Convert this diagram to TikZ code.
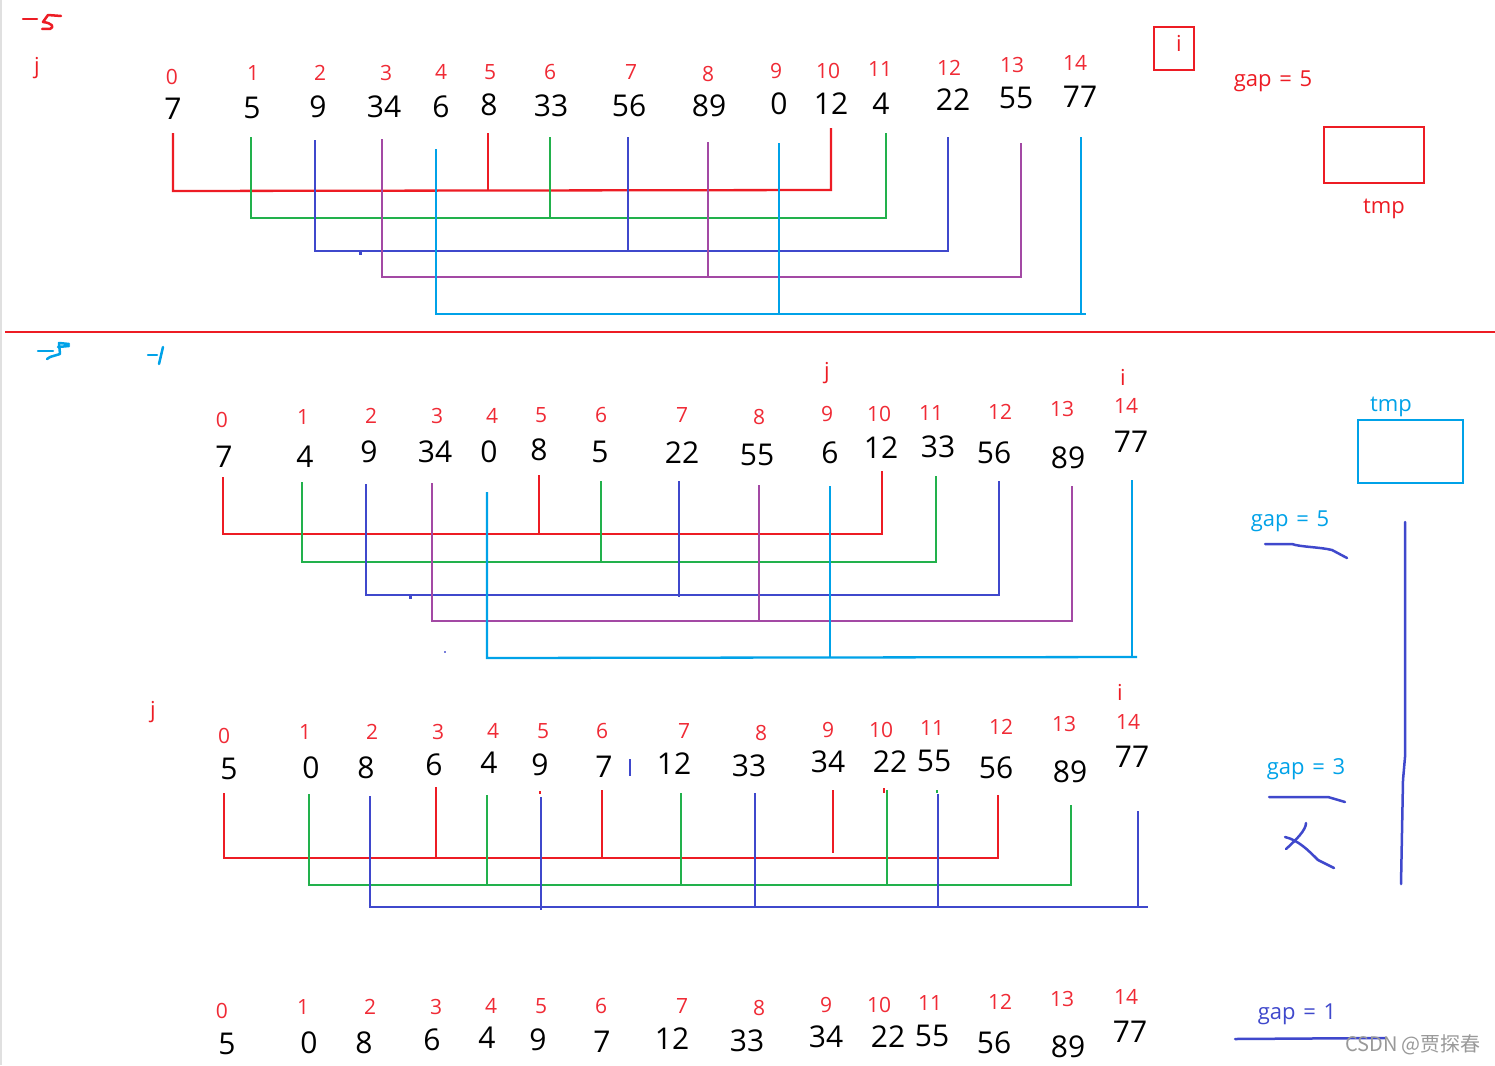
\documentclass[tikz,border=0pt]{standalone}
\usepackage{fontspec}
\setmainfont{Open Sans}
\newfontfamily\cjkfont{Noto Sans CJK SC}
\definecolor{cR}{HTML}{ED1C24}
\definecolor{cG}{HTML}{22B14C}
\definecolor{cB}{HTML}{3F48CC}
\definecolor{cP}{HTML}{A349A4}
\definecolor{cC}{HTML}{00A2E8}
\definecolor{cI}{HTML}{F02A35}
\tikzset{
  num/.style={font=\fontsize{30}{31}\selectfont, text=black, inner sep=0pt},
  idx/.style={font=\fontsize{21}{22}\selectfont, text=cI, inner sep=0pt},
  lbl/.style={font=\fontsize{22}{24}\selectfont, inner sep=0pt},
  ln/.style={line width=2.3pt},
  hand/.style={line width=2.5pt, line cap=round, line join=round},
}
\newcommand\gaptext[1]{gap\hspace{0.35em}=\hspace{0.35em}#1}
\begin{document}
\begin{tikzpicture}[x=1pt,y=-1pt]
\useasboundingbox (0,0) rectangle (1495,1065);
\fill[white] (0,0) rectangle (1495,1065);
\draw[black!12, line width=1.5pt] (1,0) -- (1,1065);

% ---------------- Section 1 ----------------
\draw[hand, cR] (23,19) -- (37,19);
\draw[hand, cR] (61,16) -- (48,15) -- (43,22) .. controls (52,23) and (55,27) .. (50,29) -- (42,29);
\node[lbl, text=cR] (j1) at (37,68) {j};
\foreach \x/\y/\t [count=\k from 0] in {172/77/0,253/73/1,320/73/2,386/73/3,441/72/4,490/72/5,550/72/6,631/72/7,708/74/8,776/71/9,828/71/10,880/69/11,949/68/12,1012/65/13,1075/63/14}
  {\node[idx] (s1i\k) at (\x,\y) {\t};}
\foreach \x/\y/\t [count=\k from 0] in {173/109/7,252/108/5,318/107/9,384/107/34,441/107/6,489/105/8,551/106/33,629/106/56,709/106/89,779/104/0,831/104/12,881/104/4,953/100/22,1016/98/55,1080/97/77}
  {\node[num] (s1n\k) at (\x,\y) {\t};}

\draw[ln, cR] (173,133) -- (173,191) -- (831,190) -- (831,128);
\draw[ln, cR] (488,133) -- (488,190);
\draw[ln, cG] (251,137) -- (251,218) -- (886,218) -- (886,133);
\draw[ln, cG] (550,137) -- (550,218);
\draw[ln, cB] (315,140) -- (315,251) -- (948,251) -- (948,137);
\draw[ln, cB] (628,137) -- (628,252);
\fill[cB] (359,251) rectangle (362,255);
\draw[ln, cP] (382,139) -- (382,277) -- (1021,277) -- (1021,143);
\draw[ln, cP] (708,142) -- (708,278);
\draw[ln, cC] (436,149) -- (436,314) -- (1086,314);
\draw[ln, cC] (1081,137) -- (1081,314);
\draw[ln, cC] (779,143) -- (779,314);

\draw[ln, cR] (1154,27) rectangle (1194,70);
\node[lbl, text=cR] (iA) at (1179,43) {i};
\node[lbl, text=cR] (gap1) at (1273,81) {\gaptext{5}};
\draw[ln, cR] (1324,127) rectangle (1424,183);
\node[lbl, text=cR] (tmp1) at (1384,209) {tmp};

\draw[ln, cR] (5,332) -- (1495,332);

% ---------------- Section 2 ----------------
\draw[hand, cC] (38,351) -- (53,351);
\draw[hand, cC] (69,344) -- (59,343) -- (60,354) -- (50,357) -- (47,359);
\draw[hand, cC] (58,347) -- (69,346);
\draw[hand, cC] (148,355) -- (157,355);
\draw[hand, cC] (163,347) -- (159,364);
\node[lbl, text=cR] (j2) at (827,373) {j};
\node[lbl, text=cR] (i2) at (1123,377) {i};
\foreach \x/\y/\t [count=\k from 0] in {222/420/0,303/417/1,371/416/2,437/416/3,492/416/4,541/415/5,601/415/6,682/415/7,759/417/8,827/414/9,879/414/10,931/413/11,1000/412/12,1062/409/13,1126/406/14}
  {\node[idx] (s2i\k) at (\x,\y) {\t};}
\foreach \x/\y/\t [count=\k from 0] in {224/457/7,305/457/4,369/452/9,435/452/34,489/452/0,539/450/8,600/452/5,682/453/22,757/455/55,830/453/6,881/448/12,938/447/33,994/453/56,1068/458/89,1131/442/77}
  {\node[num] (s2n\k) at (\x,\y) {\t};}

\draw[ln, cR] (223,477) -- (223,534) -- (882,534) -- (882,471);
\draw[ln, cR] (539,475) -- (539,534);
\draw[ln, cG] (302,482) -- (302,562) -- (936,562) -- (936,476);
\draw[ln, cG] (601,481) -- (601,562);
\draw[ln, cB] (366,484) -- (366,595) -- (999,595) -- (999,481);
\draw[ln, cB] (679,481) -- (679,597);
\fill[cB] (409,595) rectangle (412,599);
\draw[ln, cP] (432,483) -- (432,621) -- (1072,621) -- (1072,486);
\draw[ln, cP] (759,485) -- (759,622);
\draw[ln, cC] (487,492) -- (487,658) -- (1137,657);
\draw[ln, cC] (830,486) -- (830,657);
\draw[ln, cC] (1132,480) -- (1132,657);
\fill[cB!70] (444,651) rectangle (446,653);

\draw[ln, cC] (1358,420) rectangle (1463,483);
\node[lbl, text=cC] (tmp2) at (1391,407) {tmp};
\node[lbl, text=cC] (gap2) at (1290,521) {\gaptext{5}};
\draw[hand, cB] (1265,544) -- (1292,544) .. controls (1300,547) and (1320,547) .. (1332,550) -- (1347,558);
\draw[hand, cB] (1405,522) -- (1405,757) -- (1403,780) -- (1401,884);

% ---------------- Section 3 ----------------
\node[lbl, text=cR] (j3) at (153,712) {j};
\node[lbl, text=cR] (i3) at (1120,692) {i};
\foreach \x/\y/\t [count=\k from 0] in {224/736/0,305/732/1,372/732/2,438/732/3,493/731/4,543/731/5,602/731/6,684/731/7,761/733/8,828/730/9,881/730/10,932/728/11,1001/727/12,1064/724/13,1128/722/14}
  {\node[idx] (s3i\k) at (\x,\y) {\t};}
\foreach \x/\y/\t [count=\k from 0] in {229/769/5,311/768/0,366/768/8,434/765/6,489/763/4,540/765/9,604/767/7,674/764/12,749/766/33,828/762/34,890/762/22,934/761/55,996/768/56,1070/772/89,1132/757/77}
  {\node[num] (s3n\k) at (\x,\y) {\t};}
\draw[ln, cB] (630,759) -- (630,776);

\draw[ln, cR] (224,793) -- (224,858) -- (998,858) -- (998,795);
\draw[ln, cR] (436,787) -- (436,858);
\draw[ln, cR] (602,790) -- (602,858);
\draw[ln, cR] (833,790) -- (833,853);
\draw[ln, cR] (540,791) -- (540,794);
\draw[ln, cR] (884,788) -- (884,793);
\draw[ln, cG] (309,794) -- (309,885) -- (1071,885) -- (1071,805);
\draw[ln, cG] (487,795) -- (487,886);
\draw[ln, cG] (681,793) -- (681,886);
\draw[ln, cG] (887,790) -- (887,885);
\draw[ln, cG] (937,790) -- (937,793);
\draw[ln, cB] (370,796) -- (370,907) -- (1148,907);
\draw[ln, cB] (541,797) -- (541,910);
\draw[ln, cB] (755,793) -- (755,907);
\draw[ln, cB] (938,794) -- (938,907);
\draw[ln, cB] (1138,811) -- (1138,907);

\node[lbl, text=cC] (gap3) at (1306,769) {\gaptext{3}};
\draw[hand, cB] (1269,797) -- (1328,797) -- (1345,802);
\draw[hand, cB] (1306,823) .. controls (1306,830) and (1296,840) .. (1286,849);
\draw[hand, cB] (1285,837) .. controls (1298,840) and (1308,850) .. (1318,860) -- (1334,868);

% ---------------- Section 4 ----------------
\foreach \x/\y/\t [count=\k from 0] in {222/1011/0,303/1007/1,370/1007/2,436/1007/3,491/1006/4,541/1006/5,601/1006/6,682/1006/7,759/1008/8,826/1005/9,879/1005/10,930/1003/11,1000/1002/12,1062/999/13,1126/997/14}
  {\node[idx] (s4i\k) at (\x,\y) {\t};}
\foreach \x/\y/\t [count=\k from 0] in {227/1044/5,309/1043/0,364/1043/8,432/1040/6,487/1038/4,538/1040/9,602/1042/7,672/1039/12,747/1041/33,826/1037/34,888/1037/22,932/1036/55,994/1043/56,1068/1047/89,1130/1032/77}
  {\node[num] (s4n\k) at (\x,\y) {\t};}

\node[lbl, text=cB] (gap4) at (1297,1014) {\gaptext{1}};
\draw[hand, cB] (1235,1039) -- (1385,1038);
\node[font=\cjkfont\fontsize{20}{21}\selectfont, text=black!40, inner sep=0pt] (wm) at (1413,1045) {CSDN @贾探春};
\end{tikzpicture}
\end{document}
